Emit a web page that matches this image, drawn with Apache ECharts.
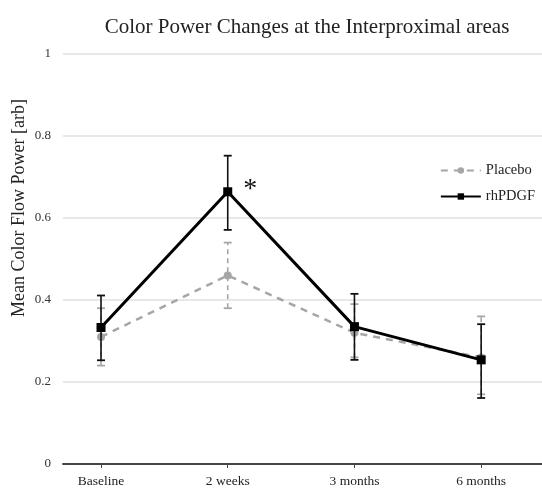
<!DOCTYPE html>
<html>
<head>
<meta charset="utf-8">
<script src="https://cdn.jsdelivr.net/npm/echarts@6/dist/echarts.min.js"></script>
<style>
  html, body { margin: 0; padding: 0; background: #fff; }
  #main { width: 542px; height: 491px; }
</style>
</head>
<body>
<div id="main"></div>
<script>
// data
let categories = ["Baseline", "2 weeks", "3 months", "6 months"];
let placeboMean = [0.31, 0.46, 0.32, 0.26];
let placeboLow = [0.24, 0.38, 0.26, 0.17];
let placeboHigh = [0.38, 0.54, 0.39, 0.36];
let rhMean = [0.333, 0.664, 0.335, 0.254];
let rhLow = [0.253, 0.571, 0.254, 0.161];
let rhHigh = [0.411, 0.752, 0.415, 0.341];
let sigMarks = ["", "*", "", ""];
let yTicks = [0, 0.2, 0.4, 0.6, 0.8, 1];

let serif = "Liberation Serif";
let chartDom = document.getElementById("main");
let chart = echarts.init(chartDom);

function errorBars(low, high, color, dashed) {
    return {
        type: "custom",
        silent: true,
        z: dashed ? 1 : 3,
        data: low.map((l, i) => [i, l, high[i]]),
        renderItem: function (params, api) {
            let lo = api.coord([api.value(0), api.value(1)]);
            let hi = api.coord([api.value(0), api.value(2)]);
            let half = 4;
            let style = {stroke: color, lineWidth: 1.6, lineDash: dashed ? [5, 4] : null};
            let capStyle = {stroke: color, lineWidth: 1.8};
            return {
                type: "group",
                children: [
                    {type: "line", shape: {x1: lo[0], y1: lo[1], x2: hi[0], y2: hi[1]}, style: style},
                    {type: "line", shape: {x1: lo[0] - half, y1: lo[1], x2: lo[0] + half, y2: lo[1]}, style: capStyle},
                    {type: "line", shape: {x1: hi[0] - half, y1: hi[1], x2: hi[0] + half, y2: hi[1]}, style: capStyle}
                ]
            };
        }
    };
}

let option = {
    backgroundColor: "#fff",
    animation: false,
    title: {
        text: "Color Power Changes at the Interproximal areas",
        left: 302,
        textAlign: "center",
        top: 12,
        textStyle: {fontFamily: serif, fontSize: 21, fontWeight: "normal", color: "#222"}
    },
    legend: {
        orient: "vertical",
        right: 2,
        top: 158,
        itemWidth: 40,
        itemHeight: 8,
        itemGap: 11,
        textStyle: {fontFamily: serif, fontSize: 14.5, color: "#222"},
        data: ["Placebo", "rhPDGF"]
    },
    graphic: [{
        type: "text",
        rotation: Math.PI / 2,
        style: {
            text: "Mean Color Flow Power [arb]",
            font: "18px " + serif,
            fill: "#222",
            align: "center",
            verticalAlign: "middle"
        },
        x: 19, y: 208
    }],
    grid: {left: 63, right: 0, top: 54, bottom: 27},
    xAxis: {
        type: "value",
        min: -0.3,
        max: 3.48,
        splitLine: {show: false},
        axisLine: {lineStyle: {color: "#444", width: 1.8}},
        axisTick: {show: true, customValues: [0, 1, 2, 3], length: 4, lineStyle: {color: "#444"}},
        axisLabel: {
            customValues: [0, 1, 2, 3],
            formatter: v => categories[Math.round(v)],
            fontFamily: serif, fontSize: 13.5, color: "#222", margin: 10
        }
    },
    yAxis: {
        type: "value",
        min: 0,
        max: 1,
        interval: 0.2,
        axisLine: {show: false},
        axisTick: {show: false},
        splitLine: {lineStyle: {color: "#e0e0e0", width: 1.5}},
        axisLabel: {
            formatter: v => String(yTicks.find(t => Math.abs(t - v) < 1e-6)),
            fontFamily: serif, fontSize: 13, color: "#333", margin: 12
        }
    },
    series: [
        errorBars(placeboLow, placeboHigh, "#a6a6a6", true),
        {
            name: "Placebo",
            type: "line",
            z: 2,
            data: placeboMean.map((v, i) => [i, v]),
            symbol: "circle",
            symbolSize: 8,
            color: "#a6a6a6",
            lineStyle: {color: "#a6a6a6", width: 2.5, type: [7, 6]},
            itemStyle: {color: "#a6a6a6"}
        },
        {
            name: "rhPDGF",
            type: "line",
            z: 4,
            data: rhMean.map((v, i) => ({
                value: [i, v],
                label: {
                    show: sigMarks[i] !== "",
                    formatter: sigMarks[i],
                    position: "right",
                    offset: [6, -2],
                    fontSize: 28,
                    fontFamily: serif,
                    color: "#111"
                }
            })),
            symbol: "rect",
            symbolSize: 9,
            color: "#000",
            lineStyle: {color: "#000", width: 3},
            itemStyle: {color: "#000"}
        },
        errorBars(rhLow, rhHigh, "#111", false)
    ]
};
option && chart.setOption(option);
</script>
</body>
</html>
